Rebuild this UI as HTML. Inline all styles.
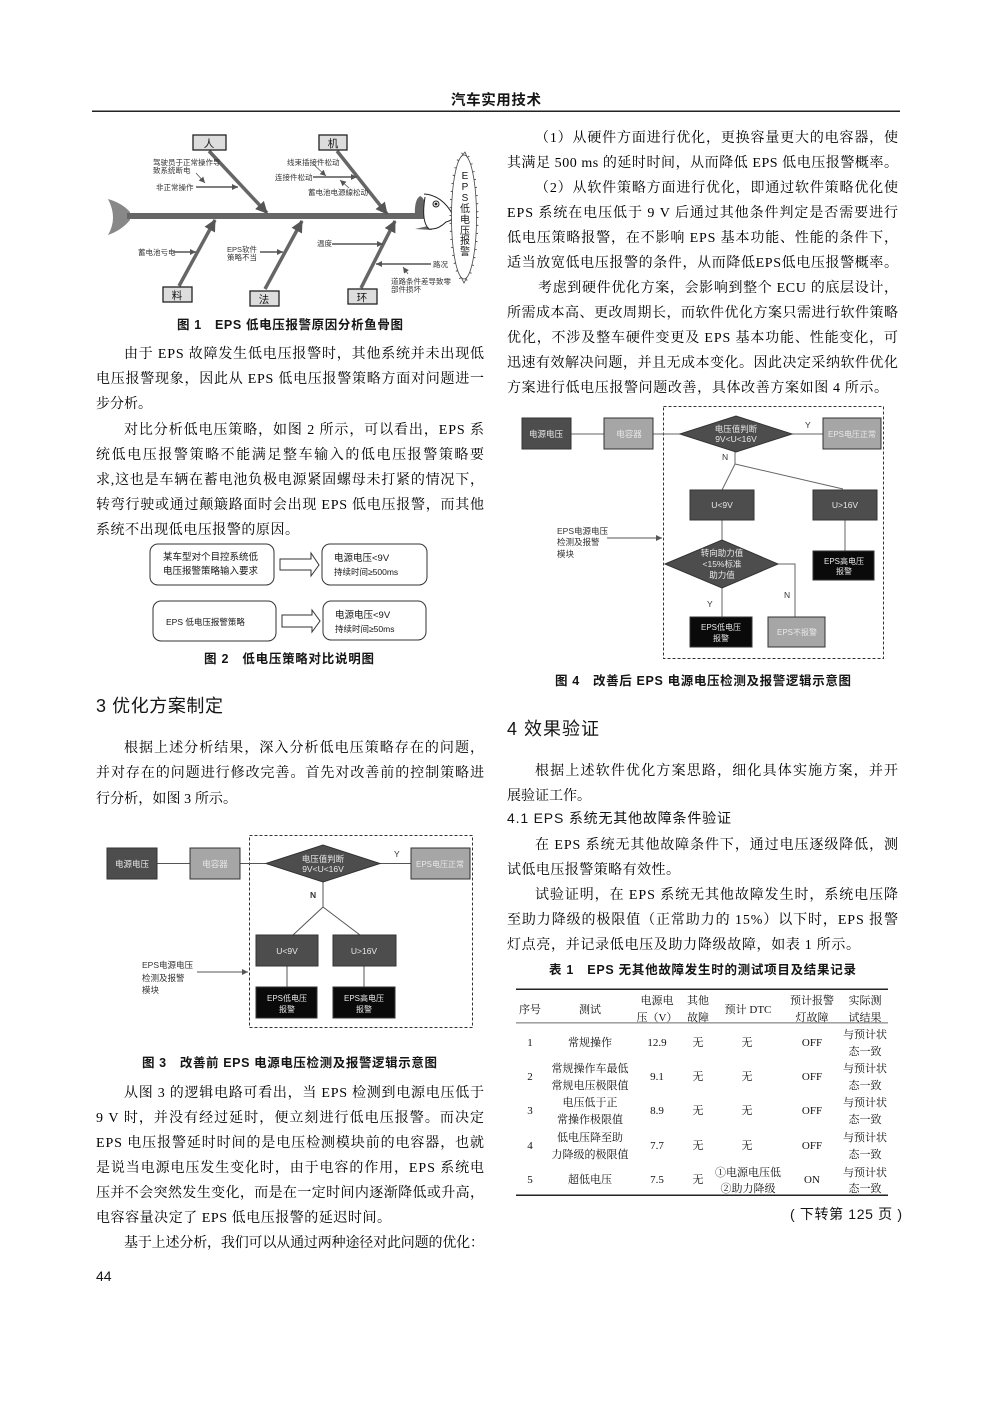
<!DOCTYPE html>
<html lang="zh"><head><meta charset="utf-8"><title>汽车实用技术</title>
<style>
html,body{margin:0;padding:0;background:#fff}
svg{display:block}
.b{font:14px "Liberation Serif","Noto Serif CJK SC",serif;fill:#000;transform:translate(0,.8px)}
.s{font-family:"Liberation Sans","Noto Sans CJK SC",sans-serif;fill:#151515}
.c{font-size:12.5px;font-weight:bold}
.t{font:11px "Liberation Serif","Noto Serif CJK SC",serif;fill:#111;text-anchor:middle;transform:translate(0,.8px)}
.f{font:7.5px "Liberation Sans","Noto Sans CJK SC",sans-serif;fill:#333}
.d{font:8.5px "Liberation Sans","Noto Sans CJK SC",sans-serif;text-anchor:middle}
.fig{filter:blur(.35px)}
</style></head><body>
<svg xmlns="http://www.w3.org/2000/svg" width="992" height="1403" viewBox="0 0 992 1403">
<defs>
<marker id="a" markerWidth="7" markerHeight="7" refX="6" refY="3" orient="auto" markerUnits="userSpaceOnUse"><path d="M0,0L6,3L0,6z" fill="#555"/></marker>
<marker id="A" markerWidth="14" markerHeight="14" refX="11" refY="6" orient="auto" markerUnits="userSpaceOnUse"><path d="M0,0L12,6L0,12z" fill="#555"/></marker>
</defs>
<rect width="992" height="1403" fill="#fff"/>
<text class="s" x="451" y="105" font-size="14.5" font-weight="bold" textLength="90">汽车实用技术</text>
<rect x="92" y="110.500" width="808" height="1.500" fill="#222"/>

<!-- Figure 1 -->
<g class="fig">
<path d="M108,199Q122,203 130,212L130,220Q122,230 108,235Q118,218 108,199z" fill="#888"/>
<rect x="127" y="213" width="298" height="6" fill="#666"/>
<path d="M415,216Q414,200 420,196Q426,198 427,216z" fill="#666"/>
<path d="M415,229L428,226L432,230z" fill="#666"/>
<path d="M424,194Q442,195 453,215Q454,220 446,222Q438,230 429,229Q421,222 425,197" fill="#fff" stroke="#222" stroke-width="1"/>
<circle cx="436" cy="204" r="3" fill="#fff" stroke="#222"/><circle cx="436" cy="204" r="1.400" fill="#222"/>
<g stroke="#666" stroke-width="3.500" fill="none" marker-end="url(#A)">
<path d="M209,151L267,213"/><path d="M337,151L387,214"/><path d="M179,286L215,220"/><path d="M265,289L302,221"/><path d="M361,288L395,221"/>
</g>
<g fill="#ddd" stroke="#222" stroke-width="1.300">
<rect x="193" y="135" width="33" height="15"/><rect x="319" y="135" width="28" height="15"/><rect x="163" y="287" width="29" height="15"/><rect x="250" y="291" width="29" height="15"/><rect x="348" y="289" width="29" height="15"/>
</g>
<g class="s" font-size="10.500" text-anchor="middle">
<text x="209" y="147">人</text><text x="333" y="147">机</text><text x="177" y="299">料</text><text x="264" y="303">法</text><text x="362" y="301">环</text>
</g>
<g class="f">
<text x="153" y="165">驾驶员于正常操作导</text><text x="153" y="173">致系统断电</text><text x="156" y="190">非正常操作</text>
<text x="287" y="165">线束插接件松动</text><text x="275" y="180">连接件松动</text><text x="308" y="195">蓄电池电源線松动</text>
<text x="138" y="255">蓄电池亏电</text><text x="227" y="252">EPS软件</text><text x="227" y="260">策略不当</text>
<text x="317" y="246">温度</text><text x="433" y="267">路况</text><text x="391" y="284">道路条件差导致零</text><text x="391" y="292">部件损坏</text>
</g>
<g stroke="#555" stroke-width="1.500" fill="none" marker-end="url(#a)">
<path d="M196,187L238,187"/><path d="M313,177L357,177"/><path d="M173,252L196,252"/><path d="M260,252L283,252"/><path d="M332,244L383,244"/><path d="M431,264L376,264"/>
</g>
<g stroke="#555" stroke-width=".8" fill="none" marker-end="url(#a)">
<path d="M196,173L205,183"/><path d="M312,163L326,176"/><path d="M349,188L340,180"/><path d="M408,274L403,267"/>
</g>
<ellipse cx="464" cy="217" rx="12.500" ry="62" fill="#fff" stroke="#444" stroke-width=".8"/>
<ellipse cx="464" cy="217" rx="13.500" ry="64" fill="none" stroke="#555" stroke-width="2" stroke-dasharray="1 7"/>
<path d="M461,157L465,152L467,157M461,277L464,283L467,277" fill="none" stroke="#444" stroke-width=".8"/>
<g class="s" font-size="10" text-anchor="middle">
<text x="465" y="179">E</text><text x="465" y="190">P</text><text x="465" y="201">S</text><text x="465" y="212">低</text><text x="465" y="223">电</text><text x="465" y="234">压</text><text x="465" y="244">报</text><text x="465" y="255">警</text>
</g>
</g>

<text class="s c" x="177" y="329" textLength="226">图 1　EPS 低电压报警原因分析鱼骨图</text>

<g class="b">
<text x="124" y="357" textLength="360">由于 EPS 故障发生低电压报警时，其他系统并未出现低</text>
<text x="96" y="382" textLength="388">电压报警现象，因此从 EPS 低电压报警策略方面对问题进一</text>
<text x="96" y="407" textLength="56">步分析。</text>
<text x="124" y="433" textLength="360">对比分析低电压策略，如图 2 所示，可以看出，EPS 系</text>
<text x="96" y="458" textLength="388">统低电压报警策略不能满足整车输入的低电压报警策略要</text>
<text x="96" y="483" textLength="388">求,这也是车辆在蓄电池负极电源紧固螺母未打紧的情况下，</text>
<text x="96" y="508" textLength="388">转弯行驶或通过颠簸路面时会出现 EPS 低电压报警，而其他</text>
<text x="96" y="533" textLength="203">系统不出现低电压报警的原因。</text>
</g>

<!-- Figure 2 -->
<g class="fig">
<g fill="#fff" stroke="#333" stroke-width="1">
<rect x="150" y="544" width="124" height="41" rx="8"/><rect x="322" y="544" width="105" height="41" rx="8"/><rect x="153" y="601" width="123" height="40" rx="8"/><rect x="323" y="601" width="103" height="39" rx="8"/>
<path d="M280,559H311V553L319,565L311,576V570H280z"/><path d="M282,615H312V610L320,621L312,632V627H282z"/>
</g>
<g class="s" font-size="9.500">
<text x="163" y="560">某车型对个目控系统低</text><text x="163" y="574">电压报警策略输入要求</text>
<text x="334" y="561">电源电压&lt;9V</text><text x="334" y="575" font-size="8.500">持续时间≥500ms</text>
<text x="166" y="625" font-size="8.500">EPS 低电压报警策略</text>
<text x="335" y="618">电源电压&lt;9V</text><text x="335" y="632" font-size="8.500">持续时间≥50ms</text>
</g>
</g>
<text class="s c" x="204" y="663" textLength="170">图 2　低电压策略对比说明图</text>

<text class="s" x="96" y="712" font-size="18" textLength="127">3 优化方案制定</text>
<g class="b">
<text x="124" y="751" textLength="360">根据上述分析结果，深入分析低电压策略存在的问题，</text>
<text x="96" y="776" textLength="388">并对存在的问题进行修改完善。首先对改善前的控制策略进</text>
<text x="96" y="802" textLength="141">行分析，如图 3 所示。</text>
</g>

<!-- Figure 3 -->
<g class="fig">
<rect x="249.500" y="835.500" width="223" height="192" fill="none" stroke="#333" stroke-dasharray="3 2"/>
<g stroke="#555" stroke-width="1" fill="none">
<path d="M157,863.500H190M240,863.500H266M380,863.500H411M323,882V907L293,935M323,907L360,935M287,966V987M364,966V987"/>
<path d="M197,972H248" marker-end="url(#a)"/>
</g>
<g stroke="#333">
<rect x="107" y="848" width="50" height="31" fill="#4d4d4d"/><rect x="190" y="848" width="50" height="31" fill="#a6a6a6"/><rect x="411" y="848" width="59" height="31" fill="#a6a6a6"/>
<path d="M266,863.500L323,845L380,863.500L323,882z" fill="#4d4d4d"/>
<rect x="256" y="935" width="62" height="31" fill="#4d4d4d"/><rect x="333" y="935" width="63" height="31" fill="#4d4d4d"/>
<rect x="256" y="987" width="61" height="31" fill="#0a0a0a"/><rect x="333" y="987" width="62" height="31" fill="#0a0a0a"/>
</g>
<g class="d" fill="#e8e8e8">
<text x="132" y="867">电源电压</text><text x="215" y="867">电容器</text><text x="440" y="867" font-size="8">EPS电压正常</text>
<text x="323" y="862">电压值判断</text><text x="323" y="872">9V&lt;U&lt;16V</text>
<text x="287" y="954">U&lt;9V</text><text x="364" y="954">U&gt;16V</text>
<text x="287" y="1001" font-size="8">EPS低电压</text><text x="287" y="1012" font-size="8">报警</text>
<text x="364" y="1001" font-size="8">EPS高电压</text><text x="364" y="1012" font-size="8">报警</text>
</g>
<g class="f" style="font-size:8.500px">
<text x="142" y="968">EPS电源电压</text><text x="142" y="981">检测及报警</text><text x="142" y="993">模块</text>
<text x="310" y="898" font-weight="bold">N</text><text x="394" y="857">Y</text>
</g>
</g>
<text class="s c" x="142" y="1067" textLength="295">图 3　改善前 EPS 电源电压检测及报警逻辑示意图</text>

<g class="b">
<text x="124" y="1096" textLength="360">从图 3 的逻辑电路可看出，当 EPS 检测到电源电压低于</text>
<text x="96" y="1121" textLength="388">9 V 时，并没有经过延时，便立刻进行低电压报警。而决定</text>
<text x="96" y="1146" textLength="388">EPS 电压报警延时时间的是电压检测模块前的电容器，也就</text>
<text x="96" y="1171" textLength="388">是说当电源电压发生变化时，由于电容的作用，EPS 系统电</text>
<text x="96" y="1196" textLength="388">压并不会突然发生变化，而是在一定时间内逐渐降低或升高，</text>
<text x="96" y="1221" textLength="295">电容容量决定了 EPS 低电压报警的延迟时间。</text>
<text x="124" y="1246" textLength="360">基于上述分析，我们可以从通过两种途径对此问题的优化：</text>
</g>
<text class="s" x="96" y="1281" font-size="14">44</text>

<!-- Right column -->
<g class="b">
<text x="535" y="141" textLength="363">（1）从硬件方面进行优化，更换容量更大的电容器，使</text>
<text x="507" y="166" textLength="391">其满足 500 ms 的延时时间，从而降低 EPS 低电压报警概率。</text>
<text x="535" y="191" textLength="363">（2）从软件策略方面进行优化，即通过软件策略优化使</text>
<text x="507" y="216" textLength="391">EPS 系统在电压低于 9 V 后通过其他条件判定是否需要进行</text>
<text x="507" y="241" textLength="391">低电压策略报警，在不影响 EPS 基本功能、性能的条件下，</text>
<text x="507" y="266" textLength="391">适当放宽低电压报警的条件，从而降低EPS低电压报警概率。</text>
<text x="538" y="291" textLength="360">考虑到硬件优化方案，会影响到整个 ECU 的底层设计，</text>
<text x="507" y="316" textLength="391">所需成本高、更改周期长，而软件优化方案只需进行软件策略</text>
<text x="507" y="341" textLength="391">优化，不涉及整车硬件变更及 EPS 基本功能、性能变化，可</text>
<text x="507" y="366" textLength="391">迅速有效解决问题，并且无成本变化。因此决定采纳软件优化</text>
<text x="507" y="391" textLength="381">方案进行低电压报警问题改善，具体改善方案如图 4 所示。</text>
</g>

<!-- Figure 4 -->
<g class="fig">
<rect x="663.500" y="406.500" width="220" height="252" fill="none" stroke="#333" stroke-dasharray="3 2"/>
<g stroke="#666" stroke-width="1" fill="none">
<path d="M571,434H604M653,434H680M792,434H823M735,452V464L722,490M735,464L843,489M722,520V540M722,588V617M778,564H795V617M845,520V551"/>
<path d="M607,538H662" stroke="#555" marker-end="url(#a)"/>
</g>
<g stroke="#333">
<rect x="522" y="418" width="49" height="31" fill="#4d4d4d"/><rect x="604" y="418" width="49" height="31" fill="#a6a6a6"/><rect x="823" y="418" width="58" height="31" fill="#a6a6a6"/>
<path d="M680,434L736,416L792,434L736,452z" fill="#4d4d4d"/>
<rect x="690" y="490" width="64" height="30" fill="#4d4d4d"/><rect x="813" y="490" width="64" height="30" fill="#4d4d4d"/>
<path d="M665,564L722,540L778,564L722,588z" fill="#4d4d4d"/>
<rect x="690" y="617" width="62" height="30" fill="#0a0a0a"/><rect x="813" y="551" width="61" height="29" fill="#0a0a0a"/><rect x="768" y="617" width="57" height="30" fill="#a6a6a6"/>
</g>
<g class="d" fill="#e8e8e8">
<text x="546" y="437">电源电压</text><text x="629" y="437">电容器</text><text x="852" y="437" font-size="8">EPS电压正常</text>
<text x="736" y="432">电压值判断</text><text x="736" y="442">9V&lt;U&lt;16V</text>
<text x="722" y="508">U&lt;9V</text><text x="845" y="508">U&gt;16V</text>
<text x="722" y="556">转向助力值</text><text x="722" y="567">&lt;15%标准</text><text x="722" y="578">助力值</text>
<text x="721" y="630" font-size="8">EPS低电压</text><text x="721" y="641" font-size="8">报警</text>
<text x="844" y="564" font-size="8">EPS高电压</text><text x="844" y="574" font-size="8">报警</text>
<text x="797" y="635" font-size="8">EPS不报警</text>
</g>
<g class="f" style="font-size:8.500px">
<text x="557" y="534">EPS电源电压</text><text x="557" y="545">检测及报警</text><text x="557" y="557">模块</text>
<text x="722" y="460">N</text><text x="805" y="428">Y</text><text x="707" y="607">Y</text><text x="784" y="598">N</text>
</g>
</g>
<text class="s c" x="555" y="685" textLength="296">图 4　改善后 EPS 电源电压检测及报警逻辑示意图</text>

<text class="s" x="507" y="735" font-size="18" textLength="92">4 效果验证</text>
<g class="b">
<text x="535" y="774" textLength="363">根据上述软件优化方案思路，细化具体实施方案，并开</text>
<text x="507" y="799" textLength="84">展验证工作。</text>
</g>
<text class="s" x="507" y="823" font-size="14" textLength="224">4.1 EPS 系统无其他故障条件验证</text>
<g class="b">
<text x="535" y="848" textLength="363">在 EPS 系统无其他故障条件下，通过电压逐级降低，测</text>
<text x="507" y="873" textLength="173">试低电压报警策略有效性。</text>
<text x="535" y="898" textLength="363">试验证明，在 EPS 系统无其他故障发生时，系统电压降</text>
<text x="507" y="923" textLength="391">至助力降级的极限值（正常助力的 15%）以下时，EPS 报警</text>
<text x="507" y="948" textLength="353">灯点亮，并记录低电压及助力降级故障，如表 1 所示。</text>
</g>
<text class="s c" x="549" y="974" textLength="307">表 1　EPS 无其他故障发生时的测试项目及结果记录</text>

<!-- Table -->
<rect x="516" y="988.500" width="372" height="1.500" fill="#222"/>
<rect x="516" y="1022.500" width="372" height=".8" fill="#444"/>
<rect x="516" y="1194.500" width="372" height="1.500" fill="#222"/>
<g class="t">
<text x="530" y="1012">序号</text><text x="590" y="1012">测试</text>
<text x="657" y="1003">电源电</text><text x="657" y="1020">压（V）</text>
<text x="698" y="1003">其他</text><text x="698" y="1020">故障</text>
<text x="748" y="1012">预计 DTC</text>
<text x="812" y="1003">预计报警</text><text x="812" y="1020">灯故障</text>
<text x="865" y="1003">实际测</text><text x="865" y="1020">试结果</text>

<text x="530" y="1045">1</text><text x="590" y="1045">常规操作</text><text x="657" y="1045">12.9</text><text x="698" y="1045">无</text><text x="747" y="1045">无</text><text x="812" y="1045">OFF</text><text x="865" y="1037">与预计状</text><text x="865" y="1054">态一致</text>

<text x="530" y="1079">2</text><text x="590" y="1071">常规操作车最低</text><text x="590" y="1088">常规电压极限值</text><text x="657" y="1079">9.1</text><text x="698" y="1079">无</text><text x="747" y="1079">无</text><text x="812" y="1079">OFF</text><text x="865" y="1071">与预计状</text><text x="865" y="1088">态一致</text>

<text x="530" y="1113">3</text><text x="590" y="1105">电压低于正</text><text x="590" y="1122">常操作极限值</text><text x="657" y="1113">8.9</text><text x="698" y="1113">无</text><text x="747" y="1113">无</text><text x="812" y="1113">OFF</text><text x="865" y="1105">与预计状</text><text x="865" y="1122">态一致</text>

<text x="530" y="1148">4</text><text x="590" y="1140">低电压降至助</text><text x="590" y="1157">力降级的极限值</text><text x="657" y="1148">7.7</text><text x="698" y="1148">无</text><text x="747" y="1148">无</text><text x="812" y="1148">OFF</text><text x="865" y="1140">与预计状</text><text x="865" y="1157">态一致</text>

<text x="530" y="1182">5</text><text x="590" y="1182">超低电压</text><text x="657" y="1182">7.5</text><text x="698" y="1182">无</text><text x="748" y="1175">①电源电压低</text><text x="748" y="1191">②助力降级</text><text x="812" y="1182">ON</text><text x="865" y="1175">与预计状</text><text x="865" y="1191">态一致</text>
</g>
<text class="s" x="790" y="1219" font-size="14" textLength="112">( 下转第 125 页 )</text>
</svg>
</body></html>
